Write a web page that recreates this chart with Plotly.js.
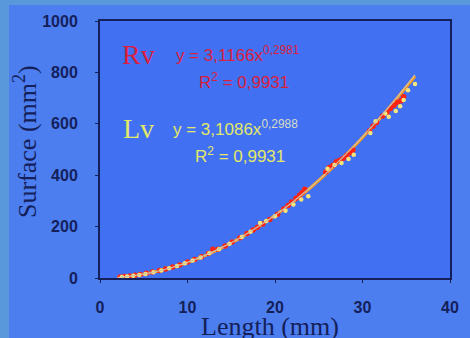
<!DOCTYPE html>
<html><head><meta charset="utf-8">
<script src="https://cdn.plot.ly/plotly-3.0.1.min.js"></script>
<style>
html,body{margin:0;padding:0;background:#4c7ef0;}
#chart{position:absolute;left:0;top:0;width:470px;height:338px;}
</style></head>
<body><div id="chart"></div>
<script>
// Rv (red) observations: length (mm), surface (mm2)
const rvLength = [2.3,2.8,3.4,4.0,4.6,5.3,6.0,6.8,7.5,8.3,9.1,10.0,10.8,11.6,12.4,12.9,13.5,14.3,15.1,16.0,16.8,17.5,18.0,18.6,19.4,20.3,21.0,21.5,21.9,22.4,22.8,23.1,23.4,25.8,26.2,26.6,27.0,27.4,27.8,28.2,28.6,28.9,30.8,31.2,31.6,32.3,32.8,33.2,33.6,34.0,34.4,34.7];
const rvSurface = [4,6,8,11,14,18,23,29,35,43,51,62,72,83,95,112,112,125,140,157,173,187,197,210,228,248,268,282,296,310,322,333,345,412,430,438,452,458,466,478,487,498,572,590,605,630,645,660,672,684,690,705];
// Lv (yellow) observations
const lvLength = [2.5,3.1,3.8,4.5,5.2,6.1,7.0,7.9,8.8,9.7,10.6,11.5,12.5,13.6,14.8,16.2,17.2,18.3,19.0,20.0,21.2,22.1,23.0,23.8,26.0,26.8,27.6,28.4,29.0,30.9,31.5,32.6,33.0,33.8,34.3,34.7,35.2,36.0];
const lvSurface = [4,6,9,12,16,22,29,38,47,57,68,80,96,112,133,160,180,214,222,240,262,286,305,318,425,440,447,463,480,564,610,640,627,650,668,693,731,755];
// power trend curves
const fitLength = [2,4,6,8,10,12,14,16,18,20,22,24,26,28,30,32,34,36];
const fitSurfaceRv = [2,10,22,39,61,88,120,156,198,244,295,351,412,478,549,625,705,790];
const fitSurfaceLv = [3,10,22,39,60,87,119,155,197,243,294,350,411,476,547,622,702,785];
const yTicks = [0,200,400,600,800,1000];
const xTicks = [0,10,20,30,40];

const navy = '#14205a';
const W = 470, H = 338, L = 100, R = 20, T = 21, B = 60;
const pw = W - L - R, ph = H - T - B;
const px = v => (v - L) / pw;          // page pixel -> paper x
const py = v => (H - B - v) / ph;      // page pixel -> paper y

const data = [
  {x: fitLength, y: fitSurfaceLv, mode:'lines', line:{color:'#ff9a1a', width:3, shape:'spline'}, hoverinfo:'skip'},
  {x: rvLength, y: rvSurface, mode:'markers', marker:{color:'#ff2410', size:5.5, line:{width:0}}},
  {x: lvLength, y: lvSurface, mode:'markers', marker:{color:'#f6e67a', size:4.5, line:{width:0}}},
  {x: fitLength, y: fitSurfaceRv, mode:'lines', line:{color:'#c9c2ad', width:1.2, shape:'spline'}, hoverinfo:'skip'}
];
const tickFont = {family:'Liberation Sans, Arial', size:16, color:navy, weight:'bold'};
const serif = 'Liberation Serif, Times New Roman';
const layout = {
  width:W, height:H,
  margin:{l:L, r:R, t:T, b:B},
  paper_bgcolor:'#4c7ef0', plot_bgcolor:'#4270f2',
  showlegend:false,
  font:{family:'Liberation Sans, Arial', color:navy},
  xaxis:{range:[0,40], tickvals:xTicks, showgrid:false, zeroline:false,
    showline:true, linecolor:navy, linewidth:2, mirror:true,
    ticks:'outside', ticklen:3, tickcolor:navy, ticklabelstandoff:11,
    tickfont:tickFont},
  yaxis:{range:[0,1000], tickvals:yTicks, showgrid:false, zeroline:false,
    showline:true, linecolor:navy, linewidth:2, mirror:true,
    ticks:'outside', ticklen:3, tickcolor:navy, ticklabelstandoff:14,
    tickfont:tickFont},
  shapes:[
    {type:'rect', xref:'paper', yref:'paper', x0:px(0), x1:px(9), y0:py(H), y1:py(0), fillcolor:'#5a98dc', line:{width:0}, layer:'below'},
    {type:'rect', xref:'paper', yref:'paper', x0:px(0), x1:px(W), y0:py(5), y1:py(0), fillcolor:'#5a98dc', line:{width:0}, layer:'below'}
  ],
  annotations:[
    {xref:'paper', yref:'paper', x:px(270), y:py(310), xanchor:'center', yanchor:'top', text:'Length (mm)', showarrow:false, font:{family:serif, size:26, color:navy}},
    {xref:'paper', yref:'paper', x:px(25), y:py(142), xanchor:'center', yanchor:'middle', textangle:-90, text:'Surface (mm<sup>2</sup>)', showarrow:false, font:{family:serif, size:26, color:navy}},
    {xref:'x', yref:'y', x:4.4, y:870, text:'Rv', showarrow:false, font:{family:serif, size:28, color:'#d8203e'}},
    {xref:'x', yref:'y', x:8.5, y:870, xanchor:'left', text:'y = 3,1166x<sup>0,2981</sup>', showarrow:false, font:{family:'Liberation Sans, Arial', size:17, color:'#d8203e'}},
    {xref:'x', yref:'y', x:16.5, y:765, text:'R<sup>2</sup> = 0,9931', showarrow:false, font:{family:'Liberation Sans, Arial', size:17, color:'#d8203e'}},
    {xref:'x', yref:'y', x:4.4, y:580, text:'Lv', showarrow:false, font:{family:serif, size:28, color:'#e2e868'}},
    {xref:'x', yref:'y', x:8.1, y:585, xanchor:'left', text:'y = 3,1086x<sup><span style="color:#d6dcc8">0,2988</span></sup>', showarrow:false, font:{family:'Liberation Sans, Arial', size:17, color:'#e2e868'}},
    {xref:'x', yref:'y', x:16.0, y:480, text:'R<sup>2</sup> = 0,9931', showarrow:false, font:{family:'Liberation Sans, Arial', size:17, color:'#e2e868'}}
  ]
};
Plotly.newPlot('chart', data, layout, {displayModeBar:false, staticPlot:true});
</script></body></html>
